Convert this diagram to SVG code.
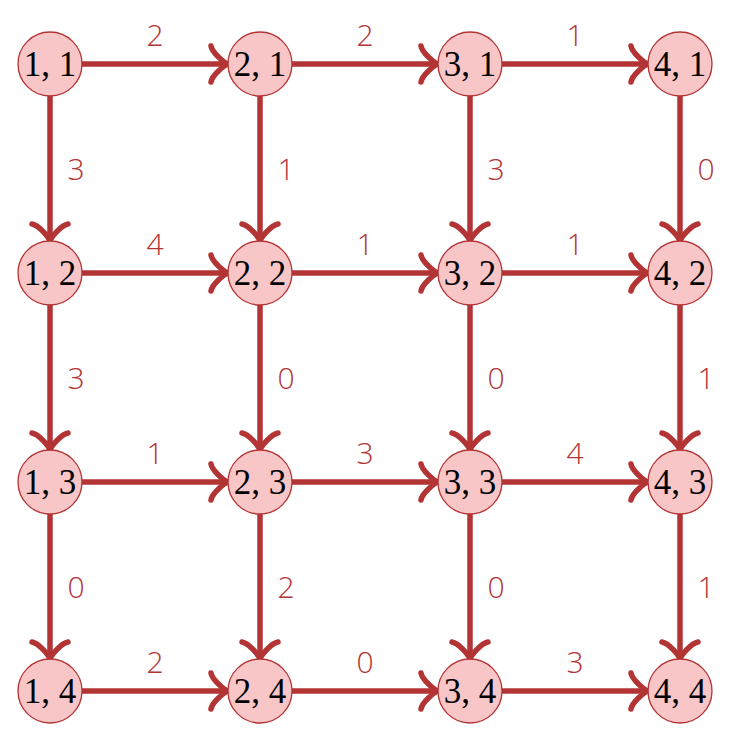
<svg xmlns="http://www.w3.org/2000/svg" width="731" height="747" viewBox="0 0 731 747">
<defs>
<marker id="to" markerUnits="userSpaceOnUse" orient="auto" markerWidth="40" markerHeight="40" viewBox="-30 -20 40 40" refX="0" refY="0" overflow="visible">
<path d="M -17,-18 C -15.8,-11 -3.4,-1.1 0,0 C -3.4,1.1 -15.8,11 -17,18" fill="none" stroke="#b33434" stroke-width="5.5" stroke-linecap="round" stroke-linejoin="round"/>
</marker>
</defs>
<style>
.e{stroke:#b33434;stroke-width:5.5;fill:none;marker-end:url(#to)}
.n circle{fill:#f9c6c8;stroke:#b33434;stroke-width:1.3}
.n text{font-family:"Liberation Serif","Times New Roman",serif;font-size:35px;fill:#000;text-anchor:middle}
.l{font-family:"Open Sans","Lato","DejaVu Sans",sans-serif;font-weight:300;font-size:30px;fill:#b33434;text-anchor:middle}
</style>
<rect width="731" height="747" fill="#fff"/>
<g id="edges">
<line class="e" x1="82" y1="64" x2="228" y2="64"/>
<line class="e" x1="292" y1="64" x2="438" y2="64"/>
<line class="e" x1="502" y1="64" x2="648" y2="64"/>
<line class="e" x1="82" y1="273" x2="228" y2="273"/>
<line class="e" x1="292" y1="273" x2="438" y2="273"/>
<line class="e" x1="502" y1="273" x2="648" y2="273"/>
<line class="e" x1="82" y1="482" x2="228" y2="482"/>
<line class="e" x1="292" y1="482" x2="438" y2="482"/>
<line class="e" x1="502" y1="482" x2="648" y2="482"/>
<line class="e" x1="82" y1="691" x2="228" y2="691"/>
<line class="e" x1="292" y1="691" x2="438" y2="691"/>
<line class="e" x1="502" y1="691" x2="648" y2="691"/>
<line class="e" x1="50" y1="96" x2="50" y2="241"/>
<line class="e" x1="50" y1="305" x2="50" y2="450"/>
<line class="e" x1="50" y1="514" x2="50" y2="659"/>
<line class="e" x1="260" y1="96" x2="260" y2="241"/>
<line class="e" x1="260" y1="305" x2="260" y2="450"/>
<line class="e" x1="260" y1="514" x2="260" y2="659"/>
<line class="e" x1="470" y1="96" x2="470" y2="241"/>
<line class="e" x1="470" y1="305" x2="470" y2="450"/>
<line class="e" x1="470" y1="514" x2="470" y2="659"/>
<line class="e" x1="680" y1="96" x2="680" y2="241"/>
<line class="e" x1="680" y1="305" x2="680" y2="450"/>
<line class="e" x1="680" y1="514" x2="680" y2="659"/>
</g>
<g id="labels">
<text class="l" x="155" y="46">2</text>
<text class="l" x="365" y="46">2</text>
<text class="l" x="575" y="46">1</text>
<text class="l" x="155" y="255">4</text>
<text class="l" x="365" y="255">1</text>
<text class="l" x="575" y="255">1</text>
<text class="l" x="155" y="464">1</text>
<text class="l" x="365" y="464">3</text>
<text class="l" x="575" y="464">4</text>
<text class="l" x="155" y="673">2</text>
<text class="l" x="365" y="673">0</text>
<text class="l" x="575" y="673">3</text>
<text class="l" x="76" y="180">3</text>
<text class="l" x="76" y="389">3</text>
<text class="l" x="76" y="598">0</text>
<text class="l" x="286" y="180">1</text>
<text class="l" x="286" y="389">0</text>
<text class="l" x="286" y="598">2</text>
<text class="l" x="496" y="180">3</text>
<text class="l" x="496" y="389">0</text>
<text class="l" x="496" y="598">0</text>
<text class="l" x="706" y="180">0</text>
<text class="l" x="706" y="389">1</text>
<text class="l" x="706" y="598">1</text>
</g>
<g id="n11" class="n"><circle cx="50" cy="64" r="32"/><text x="50" y="76">1, 1</text></g>
<g id="n21" class="n"><circle cx="260" cy="64" r="32"/><text x="260" y="76">2, 1</text></g>
<g id="n31" class="n"><circle cx="470" cy="64" r="32"/><text x="470" y="76">3, 1</text></g>
<g id="n41" class="n"><circle cx="680" cy="64" r="32"/><text x="680" y="76">4, 1</text></g>
<g id="n12" class="n"><circle cx="50" cy="273" r="32"/><text x="50" y="285">1, 2</text></g>
<g id="n22" class="n"><circle cx="260" cy="273" r="32"/><text x="260" y="285">2, 2</text></g>
<g id="n32" class="n"><circle cx="470" cy="273" r="32"/><text x="470" y="285">3, 2</text></g>
<g id="n42" class="n"><circle cx="680" cy="273" r="32"/><text x="680" y="285">4, 2</text></g>
<g id="n13" class="n"><circle cx="50" cy="482" r="32"/><text x="50" y="494">1, 3</text></g>
<g id="n23" class="n"><circle cx="260" cy="482" r="32"/><text x="260" y="494">2, 3</text></g>
<g id="n33" class="n"><circle cx="470" cy="482" r="32"/><text x="470" y="494">3, 3</text></g>
<g id="n43" class="n"><circle cx="680" cy="482" r="32"/><text x="680" y="494">4, 3</text></g>
<g id="n14" class="n"><circle cx="50" cy="691" r="32"/><text x="50" y="703">1, 4</text></g>
<g id="n24" class="n"><circle cx="260" cy="691" r="32"/><text x="260" y="703">2, 4</text></g>
<g id="n34" class="n"><circle cx="470" cy="691" r="32"/><text x="470" y="703">3, 4</text></g>
<g id="n44" class="n"><circle cx="680" cy="691" r="32"/><text x="680" y="703">4, 4</text></g>
</svg>
